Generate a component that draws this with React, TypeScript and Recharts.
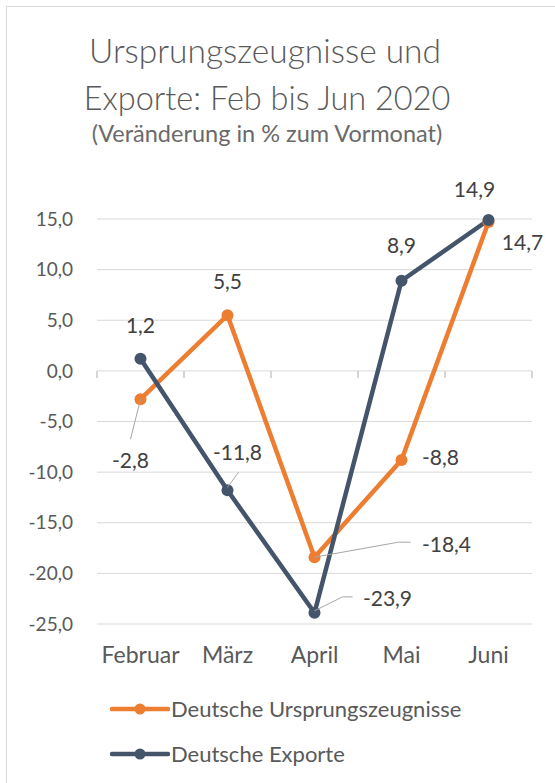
import { LineChart, Line, XAxis, YAxis, CartesianGrid, Legend, LabelList, ReferenceLine } from 'recharts';

const months = ['Februar', 'März', 'April', 'Mai', 'Juni'];
const ursprung = [-2.8, 5.5, -18.4, -8.8, 14.7];
const exporte = [1.2, -11.8, -23.9, 8.9, 14.9];
const yTicks = [-25, -20, -15, -10, -5, 0, 5, 10, 15];
const seriesNames = ['Deutsche Ursprungszeugnisse', 'Deutsche Exporte'];

const data = months.map((m, i) => ({ idx: i, month: m, ursprung: ursprung[i], exporte: exporte[i] }));
const monthTicks = months.map((_, i) => i);
const boundaries = [...monthTicks.map((i) => i - 0.5), months.length - 0.5];

const FONT = 'Lato, sans-serif';
const ORANGE = '#ED7D31';
const NAVY = '#44546A';
const GRID = '#D9D9D9';
const TEXT = '#595959';

// where each data label sits relative to its point, plus optional leader line
type Place = { dx: number; dy: number; leader?: number[][] };
const ursprungPlace: Place[] = [
  { dx: -10, dy: 61, leader: [[0, 0], [-10, 40]] },
  { dx: 0, dy: -34 },
  { dx: 132, dy: -13, leader: [[0, 0], [84, -15], [96, -15]] },
  { dx: 39, dy: -2 },
  { dx: 34, dy: 21 },
];
const exportePlace: Place[] = [
  { dx: 0, dy: -33 },
  { dx: 10, dy: -38, leader: [[0, -3], [11, -18]] },
  { dx: 73, dy: -14, leader: [[0, -2], [28, -16], [38, -16]] },
  { dx: 0, dy: -35 },
  { dx: -14, dy: -30 },
];

const fmt = (v: number) => v.toFixed(1).replace('.', ',');

function makeLabel(places: Place[]) {
  return (props: any) => {
    const { x, y, value, index } = props;
    const p = places[index];
    if (!p) return null;
    return (
      <g>
        {p.leader && (
          <polyline
            points={p.leader.map(([a, b]) => `${x + a},${y + b}`).join(' ')}
            fill="none"
            stroke="#A6A6A6"
            strokeWidth={1}
          />
        )}
        <text
          x={x + p.dx}
          y={y + p.dy}
          dy="0.35em"
          textAnchor="middle"
          fontFamily={FONT}
          fontSize={21}
          fill="#404040"
        >
          {fmt(value)}
        </text>
      </g>
    );
  };
}

function LegendContent(props: any) {
  const items = [...(props.payload || [])].sort(
    (a: any, b: any) => seriesNames.indexOf(a.value) - seriesNames.indexOf(b.value)
  );
  return (
    <div>
      {items.map((it: any) => (
        <div key={it.value} style={{ display: 'flex', alignItems: 'center', height: 45 }}>
          <svg width={60} height={14}>
            <line x1={2} y1={7} x2={58} y2={7} stroke={it.color} strokeWidth={4.5} strokeLinecap="round" />
            <circle cx={30} cy={7} r={5.5} fill={it.color} />
          </svg>
          <span style={{ fontFamily: FONT, fontSize: 22, color: TEXT, marginLeft: 1 }}>{it.value}</span>
        </div>
      ))}
    </div>
  );
}

export default function App() {
  return (
    <div style={{ position: 'absolute', left: 0, top: 0, width: 555, height: 783, background: '#fff', overflow: 'hidden' }}>
      <div
        style={{
          position: 'absolute',
          left: 6,
          top: 6,
          width: 600,
          height: 800,
          borderLeft: `1.5px solid ${GRID}`,
          borderTop: `1.5px solid ${GRID}`,
        }}
      />
      <svg width={555} height={160} style={{ position: 'absolute', left: 0, top: 0 }}>
        <text x={265} y={63} textAnchor="middle" fontFamily={FONT} fontWeight={300} fontSize={33.5} fill={TEXT}>
          Ursprungszeugnisse und
        </text>
        <text x={267} y={110} textAnchor="middle" fontFamily={FONT} fontWeight={300} fontSize={32.5} fill={TEXT}>
          Exporte: Feb bis Jun 2020
        </text>
        <text x={267} y={142} textAnchor="middle" fontFamily={FONT} fontSize={23.5} fill="#6A6A6A">
          (Veränderung in % zum Vormonat)
        </text>
      </svg>
      <div style={{ position: 'absolute', left: 0, top: 0 }}>
        <LineChart width={555} height={783} data={data} margin={{ top: 219, right: 23, bottom: 119, left: 0 }}>
          <CartesianGrid vertical={false} stroke={GRID} strokeWidth={1} />
          <XAxis
            dataKey="idx"
            type="number"
            domain={[-0.5, months.length - 0.5]}
            ticks={monthTicks}
            interval={0}
            tickFormatter={(i: number) => months[i]}
            axisLine={false}
            tickLine={false}
            tickSize={0}
            tickMargin={23}
            height={40}
            tick={{ fill: TEXT, fontSize: 23, fontFamily: FONT }}
          />
          <YAxis
            domain={[-25, 15]}
            ticks={yTicks}
            interval={0}
            axisLine={false}
            tickLine={false}
            tickSize={0}
            tickMargin={24}
            width={97}
            tickFormatter={fmt}
            tick={{ fill: TEXT, fontSize: 19, fontFamily: FONT }}
          />
          {boundaries.map((b) => (
            <ReferenceLine
              key={b}
              ifOverflow="visible"
              segment={[{ x: b, y: 0 }, { x: b, y: -0.7 }]}
              stroke="#C8C8C8"
              strokeWidth={1.5}
            />
          ))}
          <Line
            dataKey="ursprung"
            name={seriesNames[0]}
            stroke={ORANGE}
            strokeWidth={4.5}
            dot={{ r: 6, fill: ORANGE, stroke: ORANGE, strokeWidth: 0 }}
            isAnimationActive={false}
          >
            <LabelList dataKey="ursprung" content={makeLabel(ursprungPlace)} />
          </Line>
          <Line
            dataKey="exporte"
            name={seriesNames[1]}
            stroke={NAVY}
            strokeWidth={4.5}
            dot={{ r: 6, fill: NAVY, stroke: NAVY, strokeWidth: 0 }}
            isAnimationActive={false}
          >
            <LabelList dataKey="exporte" content={makeLabel(exportePlace)} />
          </Line>
          <Legend
            layout="vertical"
            align="center"
            verticalAlign="middle"
            content={<LegendContent />}
            wrapperStyle={{ top: 686, left: 110, width: 400 }}
          />
        </LineChart>
      </div>
    </div>
  );
}
